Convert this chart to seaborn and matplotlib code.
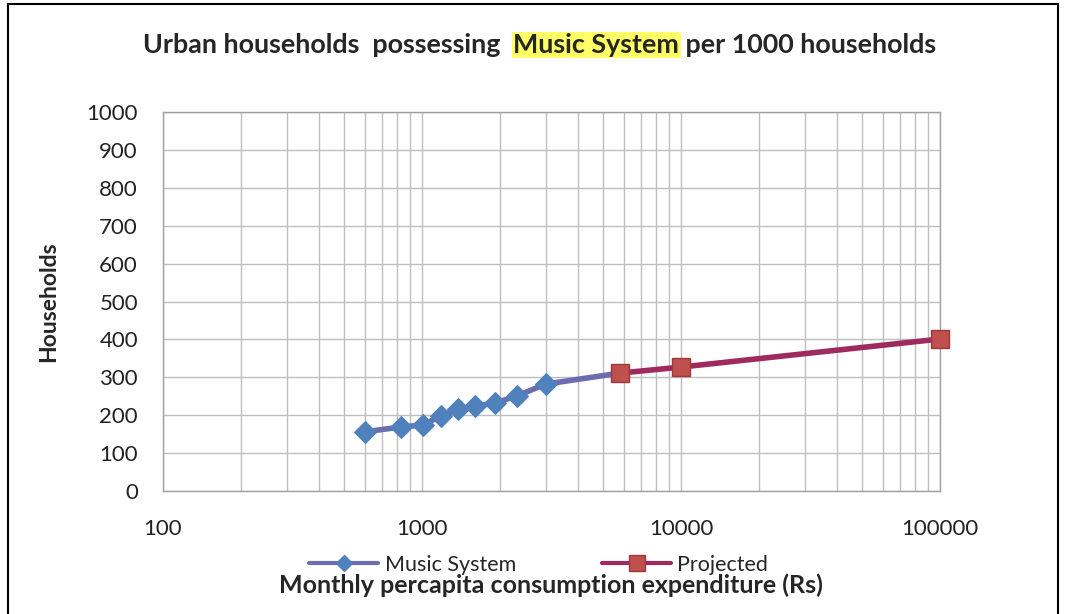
import matplotlib
matplotlib.use("Agg")
import matplotlib.pyplot as plt
import matplotlib.patches as mpatches
from matplotlib.lines import Line2D
from matplotlib.ticker import LogLocator, FixedLocator, NullFormatter, FuncFormatter
import seaborn as sns
import pandas as pd
import numpy as np

# ---- data ----
music_x = [600, 830, 1010, 1180, 1380, 1600, 1910, 2330, 3000]
music_y = [156, 169, 174, 198, 216, 224, 232, 251, 282]
proj_x = [5800, 10000, 100000]
proj_y = [311, 327, 401]
y_ticks = [0, 100, 200, 300, 400, 500, 600, 700, 800, 900, 1000]
x_ticks = [100, 1000, 10000, 100000]

sns.set_theme(style="white")
plt.rcParams['font.family'] = ['Lato', 'DejaVu Sans']

fig = plt.figure(figsize=(10.67, 6.14), dpi=100)
ax = fig.add_axes([163/1067, 1-491/614, (940-163)/1067, (491-112)/614])

music_df = pd.DataFrame({"x": music_x, "y": music_y})
proj_df = pd.DataFrame({"x": proj_x, "y": proj_y})
# connecting line from last measured point to first projection
link_df = pd.DataFrame({"x": [music_x[-1], proj_x[0]], "y": [music_y[-1], proj_y[0]]})

line_blue = "#6B6DAF"
line_red = "#9E2A5E"
mk_blue = "#4F81BD"
mk_red = "#C0504D"

sns.lineplot(data=proj_df, x="x", y="y", ax=ax, color=line_red, lw=4, marker="s",
             markersize=12.5, markerfacecolor=mk_red, markeredgecolor="#9B3A3A",
             markeredgewidth=1, zorder=3, clip_on=False)
sns.lineplot(data=link_df, x="x", y="y", ax=ax, color=line_blue, lw=4, zorder=2)
sns.lineplot(data=music_df, x="x", y="y", ax=ax, color=line_blue, lw=4, marker="D",
             markersize=11, markerfacecolor=mk_blue, markeredgecolor=mk_blue, zorder=4)

ax.set_xscale("log")
ax.set_xlim(100, 100000)
ax.set_ylim(0, 1000)
ax.set_yticks(y_ticks)
ax.xaxis.set_major_locator(FixedLocator(x_ticks))
ax.xaxis.set_minor_locator(LogLocator(base=10, subs=np.arange(2, 10)))
ax.xaxis.set_minor_formatter(NullFormatter())
ax.xaxis.set_major_formatter(FuncFormatter(lambda v, p: f"{int(v)}"))
ax.grid(True, which="both", axis="x", color="#BEBEBE", lw=1)
ax.grid(True, which="major", axis="y", color="#BEBEBE", lw=1)
for s in ax.spines.values():
    s.set_color("#A0A0A0")
    s.set_linewidth(1)
ax.tick_params(axis="both", which="both", length=0)
ax.tick_params(axis="y", labelsize=16, pad=18, colors="#222222")
ax.tick_params(axis="x", labelsize=16, pad=20, colors="#222222")
ax.set_xlabel("")
ax.set_ylabel("Households", fontsize=16.5, fontweight="bold")
ax.yaxis.set_label_coords(-0.134, 0.5)

# title with highlighted part
tfs = 19.4
t1 = fig.text(143/1067, 1-45/614, "Urban households  possessing  ", fontsize=tfs,
              fontweight="bold", ha="left", va="center")
t2 = ax.annotate("Music System", xy=(1, 0), xycoords=t1, va="bottom", ha="left",
                 fontsize=tfs, fontweight="bold",
                 bbox=dict(boxstyle="square,pad=0.05", fc="#FFFF66", ec="none"))
t3 = ax.annotate(" per 1000 households", xy=(1, 0), xycoords=t2, va="bottom", ha="left",
                 fontsize=tfs, fontweight="bold")

# legend
handles = [
    Line2D([0], [0], color=line_blue, lw=3, marker="D", markersize=8,
           markerfacecolor=mk_blue, markeredgecolor=mk_blue),
    Line2D([0], [0], color=line_red, lw=3, marker="s", markersize=11,
           markerfacecolor=mk_red, markeredgecolor="#9B3A3A"),
]
fig.legend(handles, ["Music System", "Projected"], loc="center",
           bbox_to_anchor=(0.505, 1-565/614), ncol=2, frameon=False,
           fontsize=15.5, handlelength=3.2, columnspacing=4.0, handletextpad=0.3)

fig.text(551/1067, 1-585/614, "Monthly percapita consumption expenditure (Rs)",
         fontsize=18, fontweight="bold", ha="center", va="center")

# outer border
fig.patches.append(mpatches.Rectangle((8/1067, -0.01), (1058-8)/1067, 1-4/614 + 0.01,
                                      transform=fig.transFigure, fill=False,
                                      ec="black", lw=1.5))

fig.savefig("out.png", dpi=100)
